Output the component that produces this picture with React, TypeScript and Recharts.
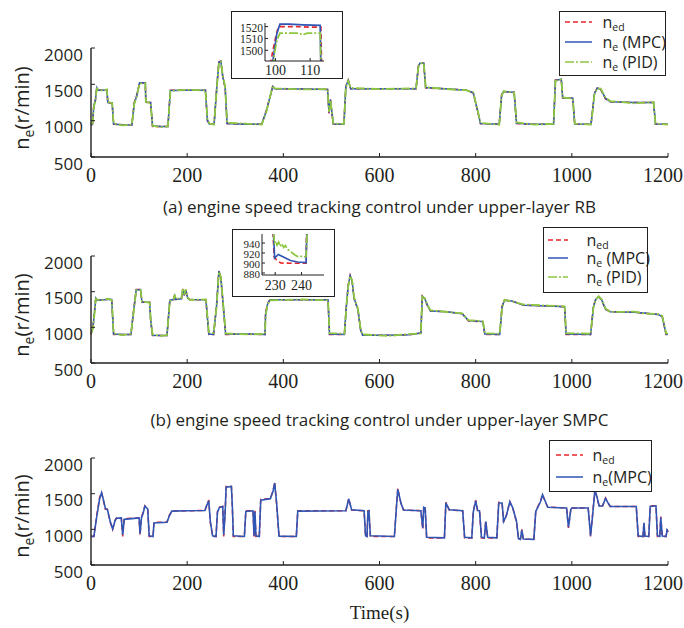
import { LineChart, Line, XAxis, YAxis, Legend } from 'recharts';

const INK = '#231f20';
const RED = '#e8262d';
const BLUE = '#2f55b5';
const GREEN = '#8dc63f';
const SANS = '"Open Sans", "DejaVu Sans", sans-serif';
const SERIF = '"Liberation Serif", "DejaVu Serif", serif';

const timeTicks = [0, 200, 400, 600, 800, 1000, 1200];
const speedTicks = [500, 1000, 1500, 2000];

// (a) upper-layer RB
const rbTime = [
  0, 3, 6, 9, 12, 15, 24, 33, 35, 44,
  47, 65, 85, 90, 95, 101, 113, 114, 124, 128,
  145, 160, 165, 200, 238, 242, 246, 256, 262, 266,
  270, 274, 279, 283, 320, 355, 365, 378, 382, 440,
  492, 495, 498, 501, 504, 526, 530, 535, 540, 600,
  676, 681, 684, 692, 696, 760, 780, 795, 805, 810,
  849, 854, 858, 880, 885, 920, 962, 966, 978, 981,
  1002, 1006, 1040, 1047, 1053, 1060, 1070, 1080, 1130, 1170,
  1174, 1200,
];
const rbRef = [
  940, 950, 1230, 1280, 1450, 1420, 1425, 1425, 1240, 1245,
  950, 945, 940, 1250, 1350, 1520, 1518, 1250, 1250, 920,
  920, 920, 1420, 1420, 1420, 1000, 955, 950, 1500, 1810,
  1820, 1600, 1450, 960, 950, 950, 1150, 1470, 1440, 1435,
  1430, 1100, 1290, 1100, 950, 950, 1480, 1560, 1440, 1440,
  1440, 1760, 1790, 1790, 1450, 1430, 1420, 1380, 1100, 960,
  950, 1360, 1400, 1390, 960, 950, 950, 1560, 1570, 1310,
  1310, 950, 950, 1380, 1450, 1430, 1300, 1260, 1250, 1250,
  950, 950,
];
const rbMpc = [
  945, 950, 1220, 1270, 1455, 1420, 1420, 1425, 1250, 1245,
  955, 945, 940, 1240, 1340, 1522, 1521, 1255, 1250, 925,
  920, 920, 1415, 1420, 1420, 1010, 955, 950, 1490, 1805,
  1820, 1610, 1460, 960, 950, 950, 1140, 1470, 1440, 1435,
  1430, 1110, 1290, 1110, 955, 950, 1470, 1555, 1440, 1440,
  1440, 1750, 1790, 1790, 1455, 1430, 1420, 1385, 1110, 960,
  950, 1350, 1400, 1390, 965, 950, 950, 1555, 1570, 1315,
  1310, 955, 950, 1370, 1450, 1430, 1310, 1260, 1250, 1250,
  955, 950,
];
const rbPid = [
  950, 960, 1200, 1260, 1440, 1425, 1415, 1430, 1260, 1240,
  960, 935, 945, 1230, 1330, 1514, 1514, 1260, 1245, 930,
  910, 925, 1410, 1425, 1415, 1030, 960, 945, 1480, 1800,
  1815, 1620, 1470, 970, 960, 945, 1130, 1480, 1445, 1430,
  1435, 1120, 1280, 1120, 960, 955, 1460, 1550, 1450, 1435,
  1445, 1740, 1785, 1795, 1460, 1425, 1420, 1390, 1120, 970,
  945, 1340, 1405, 1385, 975, 945, 955, 1550, 1565, 1320,
  1305, 960, 945, 1360, 1445, 1440, 1320, 1270, 1240, 1255,
  960, 945,
];

// (b) upper-layer SMPC
const smTime = [
  0, 4, 7, 10, 13, 25, 35, 43, 47, 65,
  83, 88, 94, 103, 106, 122, 124, 128, 145, 158,
  164, 172, 174, 176, 188, 191, 194, 197, 201, 205,
  239, 245, 255, 261, 266, 270, 275, 280, 330, 362,
  363, 367, 372, 440, 493, 496, 527, 531, 535, 539,
  543, 547, 555, 561, 565, 620, 660, 686, 689, 694,
  700, 706, 740, 772, 785, 815, 819, 850, 855, 860,
  875, 900, 950, 985, 988, 1039, 1045, 1050, 1056, 1062,
  1070, 1080, 1130, 1150, 1180, 1188, 1196, 1200,
];
const smRef = [
  900, 1000, 1200, 1420, 1380, 1385, 1395, 1390, 900, 900,
  900, 1200, 1530, 1530, 1350, 1350, 1100, 885, 885, 885,
  1390, 1390, 1450, 1390, 1400, 1540, 1450, 1530, 1410, 1390,
  1385, 900, 900, 1300, 1790, 1700, 1300, 900, 905, 900,
  1200, 1330, 1385, 1385, 1385, 900, 900, 1300, 1600, 1730,
  1650, 1400, 1250, 950, 890, 890, 895, 920, 1440, 1400,
  1300, 1230, 1220, 1190, 1090, 1080, 900, 900, 1300, 1380,
  1370, 1310, 1300, 1290, 900, 900, 1300, 1400, 1430, 1380,
  1250, 1220, 1210, 1200, 1180, 1150, 900, 900,
];
const smMpc = [
  905, 990, 1190, 1410, 1380, 1385, 1395, 1390, 905, 900,
  900, 1190, 1525, 1530, 1355, 1350, 1110, 890, 885, 885,
  1380, 1390, 1440, 1390, 1400, 1535, 1450, 1525, 1410, 1390,
  1385, 905, 900, 1290, 1785, 1700, 1310, 905, 905, 900,
  1180, 1320, 1385, 1385, 1385, 905, 900, 1290, 1590, 1725,
  1655, 1410, 1255, 955, 890, 890, 895, 920, 1435, 1405,
  1305, 1230, 1220, 1190, 1095, 1080, 905, 900, 1290, 1380,
  1370, 1310, 1300, 1290, 905, 900, 1290, 1395, 1430, 1385,
  1255, 1220, 1210, 1200, 1180, 1150, 905, 900,
];
const smPid = [
  915, 980, 1170, 1400, 1390, 1380, 1400, 1385, 915, 890,
  910, 1170, 1520, 1525, 1360, 1345, 1130, 900, 880, 890,
  1370, 1395, 1460, 1400, 1410, 1545, 1460, 1535, 1420, 1385,
  1390, 935, 920, 1280, 1780, 1710, 1320, 915, 900, 910,
  1160, 1310, 1380, 1390, 1380, 920, 910, 1280, 1580, 1720,
  1660, 1420, 1265, 965, 900, 880, 905, 915, 1430, 1410,
  1310, 1240, 1215, 1195, 1100, 1085, 915, 910, 1280, 1385,
  1365, 1320, 1305, 1295, 920, 910, 1280, 1390, 1435, 1395,
  1265, 1215, 1220, 1195, 1185, 1160, 920, 910,
];

// bottom panel
const lowTime = [
  0, 6, 12, 18, 22, 26, 30, 34, 40, 45,
  50, 53, 63, 66, 69, 100, 102, 105, 109, 112,
  118, 121, 129, 131, 158, 163, 168, 200, 237, 241,
  245, 248, 253, 260, 263, 267, 274, 276, 279, 281,
  292, 294, 296, 319, 322, 337, 339, 341, 343, 350,
  353, 373, 379, 382, 386, 391, 427, 430, 530, 536,
  542, 568, 571, 574, 576, 578, 581, 631, 635, 638,
  645, 650, 686, 690, 692, 695, 698, 735, 738, 745,
  773, 777, 792, 795, 800, 804, 808, 812, 818, 821,
  825, 844, 848, 855, 858, 864, 871, 877, 885, 889,
  893, 896, 899, 921, 925, 935, 939, 944, 950, 989,
  993, 998, 1000, 1034, 1039, 1043, 1048, 1052, 1057, 1064,
  1070, 1074, 1080, 1134, 1138, 1148, 1150, 1152, 1160, 1163,
  1175, 1178, 1183, 1185, 1188, 1196, 1198, 1200,
];
const lowRef = [
  900, 900, 1200, 1450, 1520, 1400, 1280, 1280, 1100, 1000,
  1130, 1160, 1160, 900, 1150, 1160, 920, 1170, 1250, 1330,
  1280, 900, 900, 1100, 1100, 1200, 1255, 1260, 1265, 1350,
  1410, 1100, 900, 900, 1250, 1310, 1320, 900, 1250, 1600,
  1600, 1300, 900, 900, 1260, 1260, 900, 1260, 900, 900,
  1420, 1430, 1550, 1660, 1350, 900, 900, 1260, 1260, 1430,
  1270, 1260, 900, 900, 1260, 1260, 900, 900, 1300, 1570,
  1350, 1270, 1260, 1000, 1320, 1300, 880, 880, 1380, 1270,
  1260, 880, 880, 1250, 1410, 1260, 1260, 880, 880, 1120,
  880, 880, 1380, 1370, 1100, 1200, 1390, 1300, 1100, 860,
  860, 1000, 860, 860, 1260, 1400, 1490, 1400, 1310, 1300,
  1020, 1290, 1300, 1300, 900, 1200, 1560, 1450, 1320, 1330,
  1440, 1380, 1320, 1320, 900, 900, 1100, 900, 900, 1330,
  1330, 900, 900, 1180, 900, 900, 1000, 960,
];
const lowMpc = [
  905, 900, 1180, 1430, 1515, 1410, 1290, 1280, 1110, 1005,
  1120, 1155, 1160, 920, 1140, 1160, 940, 1160, 1240, 1325,
  1285, 910, 900, 1090, 1100, 1190, 1255, 1260, 1265, 1340,
  1400, 1120, 910, 900, 1240, 1305, 1320, 920, 1230, 1590,
  1600, 1320, 910, 900, 1250, 1260, 910, 1250, 910, 900,
  1410, 1430, 1545, 1650, 1370, 905, 900, 1255, 1260, 1425,
  1275, 1260, 910, 900, 1250, 1260, 910, 900, 1290, 1560,
  1360, 1270, 1260, 1020, 1310, 1300, 890, 880, 1370, 1275,
  1260, 890, 880, 1240, 1400, 1265, 1260, 890, 880, 1110,
  890, 880, 1370, 1370, 1110, 1195, 1385, 1305, 1110, 870,
  860, 990, 865, 860, 1250, 1390, 1485, 1405, 1310, 1300,
  1030, 1280, 1300, 1300, 910, 1180, 1550, 1460, 1325, 1330,
  1435, 1385, 1320, 1320, 910, 900, 1090, 905, 900, 1320,
  1330, 910, 900, 1170, 905, 900, 990, 965,
];

// insets
const rbZoomRefT = [98.5, 99.3, 100.0, 100.6, 101.0, 106.0, 110.0, 113.1, 113.3];
const rbZoomRefV = [1488, 1500, 1510, 1517, 1520, 1520, 1519.5, 1519.5, 1485];
const rbZoomMpcT = [99.0, 99.6, 100.4, 101.3, 104.0, 108.0, 112.9, 113.1];
const rbZoomMpcV = [1485, 1498, 1514, 1522, 1522, 1521.5, 1521, 1485];
const rbZoomPidT = [99.3, 99.7, 100.5, 101.3, 106.8, 107.8, 109.2, 112.9, 113.1];
const rbZoomPidV = [1485, 1497, 1509, 1514.5, 1514.5, 1513, 1514.5, 1514.5, 1485];

const smZoomRefT = [229.2, 229.6, 230.5, 232.1, 236.0, 241.7, 241.9];
const smZoomRefV = [962, 912, 906, 900, 899.5, 899.5, 962];
const smZoomMpcT = [229.3, 229.8, 231.2, 233.5, 235.8, 238.5, 241.7, 242.0];
const smZoomMpcV = [962, 910, 917, 911, 905, 902, 901, 962];
const smZoomPidT = [229.4, 229.7, 230.2, 230.7, 231.3, 231.9, 232.5, 233.2, 233.9, 234.6, 235.5, 236.5, 237.5, 238.5, 239.5, 240.5, 241.7, 242.1];
const smZoomPidV = [962, 940, 944, 936, 942, 933, 939, 931, 935, 927, 925, 920, 916, 913, 914, 912, 913, 962];

type Series = { key: string; values: number[]; color: string; dash?: string; width?: number };
type LegendItem = { sub: string; tail: string; color: string; dash?: string };
type ZoomLine = { t: number[]; v: number[]; color: string; dash?: string };

const DASH_REF = '5 3';
const DASH_PID = '9 2 2 2';

const mainXTick = (p: any) => (
  <text x={Math.min(p.x, 663)} y={p.y + 22} textAnchor="middle" dominantBaseline="central" fontFamily={SERIF} fontSize={20} fill={INK}>
    {p.payload.value}
  </text>
);
const mainYTick = (p: any) => (
  <text x={p.x - 12} y={p.y + 6} textAnchor="end" dominantBaseline="central" fontFamily={SANS} fontSize={17} fill={INK}>
    {p.payload.value}
  </text>
);

function LegendBox({ items, w, h, padTop, padLeft, rowH, lineW, gap }: any) {
  return (
    <div style={{ width: w, height: h, boxSizing: 'border-box', border: `1.5px solid ${INK}`, background: '#fff', paddingTop: padTop, paddingLeft: padLeft }}>
      {items.map((it: LegendItem) => (
        <div key={it.sub + it.tail} style={{ display: 'flex', alignItems: 'center', height: rowH }}>
          <svg width={lineW} height={6} style={{ flex: 'none' }}>
            <line x1={0} y1={3} x2={lineW} y2={3} stroke={it.color} strokeWidth={1.5} strokeDasharray={it.dash} />
          </svg>
          <span style={{ marginLeft: gap, fontFamily: SANS, fontSize: 16, color: INK, lineHeight: 1, whiteSpace: 'nowrap' }}>
            n<span style={{ fontSize: 10.5, position: 'relative', top: 3 }}>{it.sub}</span>{it.tail}
          </span>
        </div>
      ))}
    </div>
  );
}

function MainPanel({ pageTop, height, time, series, legend }: any) {
  const data = time.map((t: number, i: number) => {
    const row: any = { t };
    series.forEach((s: Series) => (row[s.key] = s.values[i]));
    return row;
  });
  return (
    <div style={{ position: 'absolute', left: 0, top: pageTop }}>
      <LineChart width={684} height={height} data={data} margin={{ top: 48, right: 16, bottom: 0, left: 31 }}>
        <XAxis dataKey="t" type="number" domain={[0, 1200]} ticks={timeTicks} interval={0} height={43}
          tickSize={-4} tickMargin={0} tick={mainXTick} axisLine={{ stroke: INK, strokeWidth: 1.4 }} tickLine={{ stroke: INK }} />
        <XAxis xAxisId="top" orientation="top" type="number" domain={[0, 1200]} ticks={timeTicks} interval={0} height={0}
          tickSize={-4} tick={false} axisLine={{ stroke: INK, strokeWidth: 1.4 }} tickLine={{ stroke: INK }} />
        <YAxis type="number" domain={[500, 2000]} ticks={speedTicks} interval={0} width={60}
          tickSize={-4} tickMargin={0} tick={mainYTick} axisLine={{ stroke: INK, strokeWidth: 1.4 }} tickLine={{ stroke: INK }} />
        <YAxis yAxisId="r" orientation="right" type="number" domain={[500, 2000]} ticks={speedTicks} interval={0} width={0}
          tickSize={-4} tick={false} axisLine={{ stroke: INK, strokeWidth: 1.4 }} tickLine={{ stroke: INK }} />
        {series.map((s: Series) => (
          <Line key={s.key} dataKey={s.key} type="linear" stroke={s.color} strokeWidth={s.width ?? 1.5}
            strokeDasharray={s.dash} dot={false} activeDot={false} isAnimationActive={false} />
        ))}
        <Legend layout="vertical" align="center" verticalAlign="middle"
          wrapperStyle={{ left: legend.left, top: legend.top, width: legend.w, height: legend.h }}
          content={() => <LegendBox {...legend} />} />
      </LineChart>
    </div>
  );
}

function Inset({ left, top, width, height, margin, yAxisW, xAxisH, xDomain, xTicks, yDomain, yTicks, lines, xDy, ySize }: any) {
  const ax = { stroke: INK, strokeWidth: 1 };
  const xTick = (p: any) => (
    <text x={p.x} y={p.y + xDy} textAnchor="middle" dominantBaseline="central" fontFamily={SERIF} fontSize={14} fill={INK}>
      {p.payload.value}
    </text>
  );
  const yTick = (p: any) => (
    <text x={p.x - 5} y={p.y + 1} textAnchor="end" dominantBaseline="central" fontFamily={SERIF} fontSize={ySize} fill={INK}>
      {p.payload.value}
    </text>
  );
  return (
    <>
      <div style={{ position: 'absolute', left, top, width, height, boxSizing: 'border-box', border: `1.5px solid ${INK}`, background: '#fff' }} />
      <div style={{ position: 'absolute', left, top }}>
        <LineChart width={width} height={height} margin={margin}>
          <XAxis dataKey="t" type="number" domain={xDomain} ticks={xTicks} interval={0} height={xAxisH} allowDataOverflow
            tickSize={-3} tickMargin={0} tick={xTick} axisLine={ax} tickLine={ax} />
          <XAxis xAxisId="top" orientation="top" type="number" domain={xDomain} ticks={xTicks} interval={0} height={0}
            allowDataOverflow tickSize={-3} tick={false} axisLine={ax} tickLine={ax} />
          <YAxis type="number" domain={yDomain} ticks={yTicks} interval={0} width={yAxisW} allowDataOverflow
            tickSize={-3} tickMargin={0} tick={yTick} axisLine={ax} tickLine={ax} />
          <YAxis yAxisId="r" orientation="right" type="number" domain={yDomain} ticks={yTicks} interval={0} width={0}
            allowDataOverflow tickSize={-3} tick={false} axisLine={ax} tickLine={ax} />
          {lines.map((l: ZoomLine, i: number) => (
            <Line key={i} data={l.t.map((t, j) => ({ t, v: l.v[j] }))} dataKey="v" type="linear" stroke={l.color}
              strokeWidth={1.7} strokeDasharray={l.dash} dot={false} activeDot={false} isAnimationActive={false} />
          ))}
        </LineChart>
      </div>
    </>
  );
}

function YLabel({ y }: { y: number }) {
  return (
    <div style={{ position: 'absolute', left: 22, top: y, transform: 'translate(-50%, -50%) rotate(-90deg)', whiteSpace: 'nowrap',
      fontFamily: SANS, fontSize: 20, color: INK, lineHeight: 1 }}>
      n<span style={{ fontSize: 14, position: 'relative', top: 5 }}>e</span>(r/min)
    </div>
  );
}

function Caption({ y, text, font, size }: any) {
  return (
    <div style={{ position: 'absolute', left: 91, width: 577, top: y - 10, height: 20, lineHeight: '20px', textAlign: 'center',
      fontFamily: font, fontSize: size, color: INK, whiteSpace: 'nowrap' }}>
      {text}
    </div>
  );
}

const threeItems: LegendItem[] = [
  { sub: 'ed', tail: '', color: RED, dash: DASH_REF },
  { sub: 'e', tail: ' (MPC)', color: BLUE },
  { sub: 'e', tail: ' (PID)', color: GREEN, dash: DASH_PID },
];
const twoItems: LegendItem[] = [
  { sub: 'ed', tail: '', color: RED, dash: DASH_REF },
  { sub: 'e', tail: '(MPC)', color: BLUE },
];

export default function App() {
  return (
    <div style={{ position: 'absolute', left: 0, top: 0, width: 684, height: 628, background: '#fff', overflow: 'hidden' }}>
      <MainPanel pageTop={0} height={200} time={rbTime}
        series={[
          { key: 'ref', values: rbRef, color: RED, dash: DASH_REF },
          { key: 'mpc', values: rbMpc, color: BLUE },
          { key: 'pid', values: rbPid, color: GREEN, dash: DASH_PID, width: 1.8 },
        ]}
        legend={{ left: 559, top: 11, w: 107, h: 65, padTop: 0, padLeft: 4.5, rowH: 20, lineW: 27, gap: 11, items: threeItems }} />
      <MainPanel pageTop={208} height={198} time={smTime}
        series={[
          { key: 'ref', values: smRef, color: RED, dash: DASH_REF },
          { key: 'mpc', values: smMpc, color: BLUE },
          { key: 'pid', values: smPid, color: GREEN, dash: DASH_PID, width: 1.8 },
        ]}
        legend={{ left: 543, top: 19, w: 105, h: 66, padTop: 2.25, padLeft: 3.5, rowH: 18.5, lineW: 20, gap: 19, items: threeItems }} />
      <MainPanel pageTop={410} height={198} time={lowTime}
        series={[
          { key: 'ref', values: lowRef, color: RED, dash: DASH_REF },
          { key: 'mpc', values: lowMpc, color: BLUE, width: 1.6 },
        ]}
        legend={{ left: 549, top: 30, w: 103, h: 52, padTop: 2.5, padLeft: 5.5, rowH: 22, lineW: 27, gap: 10, items: twoItems }} />

      <Inset left={231} top={11} width={112} height={68} margin={{ top: 12, right: 19, bottom: 0, left: 4 }}
        yAxisW={30} xAxisH={18} xDomain={[97, 114]} xTicks={[100, 110]} yDomain={[1491, 1523]} yTicks={[1500, 1510, 1520]} xDy={12} ySize={11.5}
        lines={[
          { t: rbZoomRefT, v: rbZoomRefV, color: RED, dash: DASH_REF },
          { t: rbZoomMpcT, v: rbZoomMpcV, color: BLUE },
          { t: rbZoomPidT, v: rbZoomPidV, color: GREEN, dash: DASH_PID },
        ]} />
      <Inset left={232} top={229} width={103} height={68} margin={{ top: 5, right: 11, bottom: 0, left: 0 }}
        yAxisW={30} xAxisH={22} xDomain={[225, 248.5]} xTicks={[230, 240]} yDomain={[876, 958]} yTicks={[880, 900, 920, 940]} xDy={13} ySize={11}
        lines={[
          { t: smZoomRefT, v: smZoomRefV, color: RED, dash: DASH_REF },
          { t: smZoomMpcT, v: smZoomMpcV, color: BLUE },
          { t: smZoomPidT, v: smZoomPidV, color: GREEN, dash: DASH_PID },
        ]} />

      <YLabel y={108} />
      <YLabel y={315} />
      <YLabel y={516} />
      <Caption y={207} text="(a) engine speed tracking control under upper-layer RB" font={SANS} size={17} />
      <Caption y={420} text="(b) engine speed tracking control under upper-layer SMPC" font={SANS} size={17} />
      <Caption y={613} text="Time(s)" font={SERIF} size={19} />
    </div>
  );
}
